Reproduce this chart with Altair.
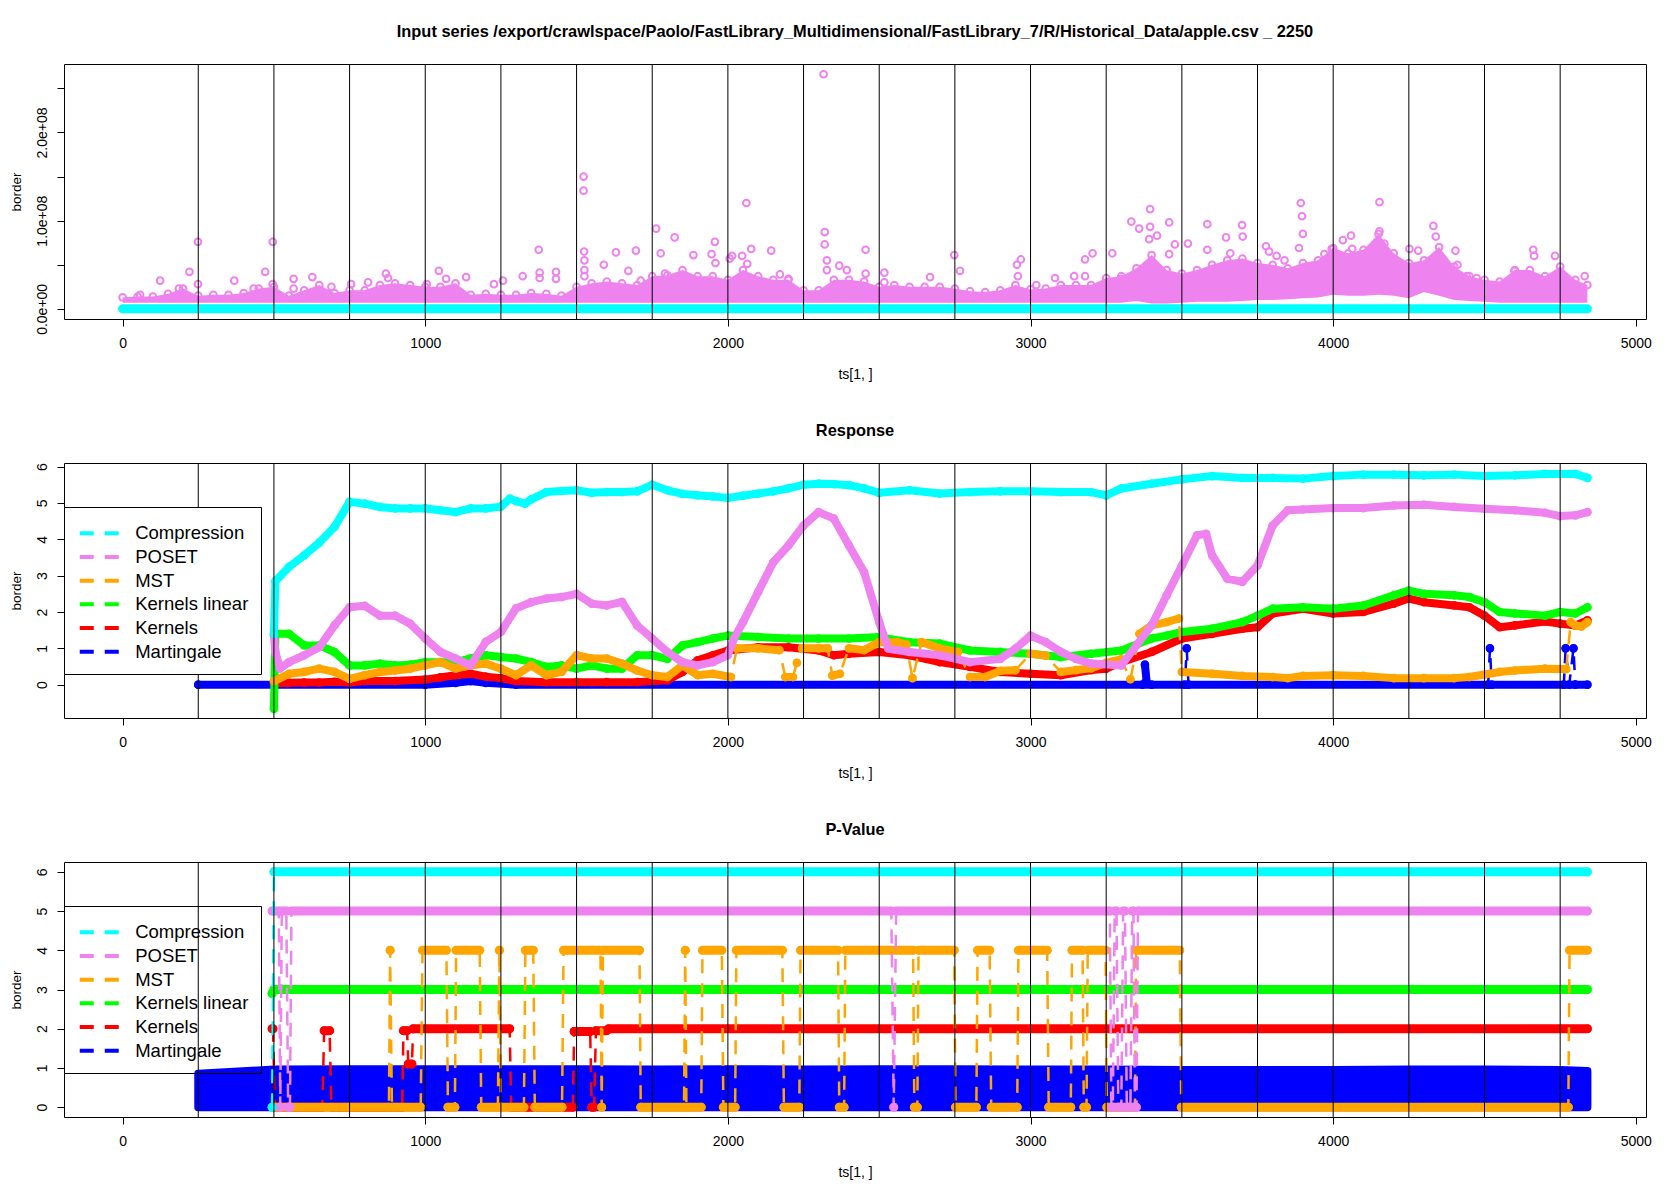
import altair as alt
import pandas as pd

FONT = "Liberation Sans"

SERIES = ["Compression", "POSET", "MST", "Kernels linear", "Kernels", "Martingale"]
COLORS = ["#00FFFF", "#EE82EE", "#FFA500", "#00FF00", "#FF0000", "#0000FF"]
Z_ORDER = ["Martingale", "Kernels", "Kernels linear", "MST", "POSET", "Compression"]

TITLE1 = "Input series /export/crawlspace/Paolo/FastLibrary_Multidimensional/FastLibrary_7/R/Historical_Data/apple.csv _ 2250"
TITLE2 = "Response"
TITLE3 = "P-Value"

breaks = [250, 500, 750, 1000, 1250, 1500, 1750, 2000, 2250, 2500, 2750, 3000,
          3250, 3500, 3750, 4000, 4250, 4500, 4750]
x_ticks = [0, 1000, 2000, 3000, 4000, 5000]
X_DOMAIN = [-193.6, 5033.6]

# ---------------- panel 1: input series (values in units of 1e7) ----------------
pink_ts = [0, 50, 100, 150, 200, 250, 300, 350, 400, 450, 500, 550, 600, 650, 700, 750,
           800, 850, 900, 950, 1000, 1050, 1100, 1150, 1200, 1250, 1300, 1350, 1400, 1450,
           1500, 1550, 1600, 1650, 1700, 1750, 1800, 1850, 1900, 1950, 2000, 2050, 2100,
           2150, 2200, 2250, 2300, 2350, 2400, 2450, 2500, 2550, 2600, 2650, 2700, 2750,
           2800, 2850, 2900, 2950, 3000, 3050, 3100, 3150, 3200, 3250, 3300, 3350, 3400,
           3450, 3500, 3550, 3600, 3650, 3700, 3750, 3800, 3850, 3900, 3950, 4000, 4050,
           4100, 4150, 4200, 4250, 4300, 4350, 4400, 4450, 4500, 4550, 4600, 4650, 4700,
           4750, 4800, 4840]
pink_hi = [1.3, 1.4, 1.4, 1.7, 2.3, 1.5, 1.6, 1.6, 1.8, 2.3, 2.5, 1.5, 2.1, 2.7, 1.8, 2.1,
           2.1, 2.7, 2.9, 2.7, 2.5, 2.5, 2.9, 1.6, 1.7, 1.6, 1.6, 1.8, 1.7, 1.5,
           2.5, 2.9, 3.1, 2.9, 2.7, 3.7, 3.8, 4.4, 3.7, 3.7, 3.3, 4.4, 3.7,
           3.3, 3.3, 2.1, 2.1, 3.3, 3.3, 3.1, 2.5, 2.7, 2.5, 2.5, 2.5, 2.3,
           2.0, 1.9, 2.1, 2.7, 2.2, 2.3, 2.7, 2.7, 2.7, 3.5, 3.7, 4.6, 6.1,
           4.4, 4.0, 4.4, 5.0, 5.5, 5.7, 5.2, 5.0, 4.6, 5.2, 5.5, 6.9, 6.3,
           6.7, 8.5, 6.3, 5.2, 5.5, 7.0, 4.8, 3.7, 3.3, 3.1, 4.4, 4.4, 3.7,
           4.8, 3.3, 2.7]
pink_lo = [0.7, 0.7, 0.7, 0.7, 0.7, 0.7, 0.7, 0.7, 0.7, 0.7, 0.7, 0.7, 0.7, 0.7, 0.7, 0.7,
           0.7, 0.7, 0.7, 0.7, 0.7, 0.7, 0.7, 0.7, 0.7, 0.7, 0.7, 0.7, 0.7, 0.7,
           0.7, 0.7, 0.7, 0.7, 0.7, 0.7, 0.7, 0.7, 0.7, 0.7, 0.7, 0.7, 0.7,
           0.7, 0.7, 0.7, 0.7, 0.7, 0.7, 0.7, 0.7, 0.7, 0.7, 0.7, 0.7, 0.7,
           0.7, 0.7, 0.7, 0.7, 0.7, 0.7, 0.7, 0.7, 0.7, 0.7, 0.7, 0.9, 0.6,
           0.6, 0.7, 0.8, 0.8, 0.8, 0.9, 1.0, 1.0, 1.1, 1.2, 1.3, 1.6, 1.5,
           1.5, 1.6, 1.5, 1.2, 1.9, 1.5, 1.0, 0.9, 0.8, 0.7, 0.7, 0.7, 0.7,
           0.7, 0.7, 0.7]
out_ts = [58, 124, 186, 221, 249, 249, 369, 433, 471, 496, 496, 565, 565, 627, 690, 755,
          811, 870, 877, 1005, 1045, 1069, 1135, 1227, 1257, 1322, 1375, 1378, 1378, 1432,
          1432, 1523, 1523, 1525, 1526, 1526, 1526, 1590, 1630, 1671, 1696, 1712, 1763,
          1778, 1792, 1824, 1886, 1946, 1957, 1959, 2006, 2014, 2047, 2061, 2064, 2077,
          2143, 2172, 2200, 2316, 2320, 2320, 2327, 2327, 2368, 2393, 2455, 2455, 2517,
          2517, 2668, 2748, 2767, 2955, 2968, 2958, 3019, 3081, 3144, 3180, 3180, 3205,
          3270, 3300, 3333, 3359, 3395, 3395, 3418, 3392, 3458, 3477, 3520, 3458, 3584,
          3584, 3646, 3699, 3701, 3660, 3778, 3788, 3813, 3839, 3893, 3897, 3900, 3887,
          3971, 4032, 4059, 3995, 4063, 4153, 4153, 4169, 4252, 4281, 4331, 4339, 4404,
          4411, 4441, 4474, 4599, 4661, 4664, 4733, 4831]
out_v = [1.6, 3.2, 2.3, 4.2, 7.6, 2.8, 3.2, 2.3, 4.2, 7.6, 2.8, 3.4, 2.3, 3.6, 2.5, 2.8,
         3.0, 4.0, 3.5, 2.8, 4.3, 3.4, 3.6, 2.8, 3.2, 3.7, 6.7, 4.1, 3.5, 4.2,
         3.4, 15.0, 13.4, 6.5, 5.5, 4.4, 3.7, 5.0, 6.4, 4.3, 6.6, 3.2, 9.1,
         6.3, 4.0, 8.1, 6.1, 6.2, 7.6, 5.2, 5.7, 6.0, 6.0, 12.0, 5.1, 6.8,
         6.6, 3.9, 3.4, 26.6, 8.7, 7.3, 5.5, 4.4, 4.9, 4.4, 6.7, 4.0, 4.1,
         3.0, 3.6, 6.1, 4.3, 5.0, 5.6, 3.7, 2.7, 3.5, 3.7, 3.7, 5.6, 6.3,
         6.3, 3.4, 9.9, 9.1, 11.3, 9.3, 8.3, 7.9, 9.8, 7.3, 7.4, 6.2, 9.6,
         6.7, 8.1, 9.5, 8.2, 6.3, 7.1, 6.5, 6.0, 5.5, 12.0, 10.5, 8.5, 6.9,
         6.2, 7.8, 8.3, 6.8, 6.8, 12.1, 8.8, 7.4, 6.8, 6.6, 9.4, 8.2, 6.6,
         5.0, 3.7, 3.5, 4.3, 6.7, 6.0, 6.0, 3.7]
cyan_ts = [0, 4840]
cyan_v = [0, 0]

# ---------------- panel 2: Response ----------------
comp_ts = [500, 505, 550, 600, 650, 700, 750, 800, 850, 900, 950, 1000, 1050, 1100, 1150,
           1200, 1250, 1280, 1300, 1330, 1350, 1400, 1450, 1500, 1550, 1600, 1650, 1700,
           1750, 1800, 1850, 1900, 1950, 2000, 2050, 2100, 2150, 2200, 2250, 2300, 2350,
           2400, 2450, 2500, 2600, 2700, 2800, 2900, 3000, 3100, 3200, 3250, 3300, 3400,
           3500, 3600, 3700, 3800, 3900, 4000, 4100, 4200, 4300, 4400, 4500, 4600, 4700,
           4800, 4840]
comp_v = [1.4, 2.85, 3.24, 3.56, 3.91, 4.34, 5.03, 4.98, 4.89, 4.85, 4.85, 4.85, 4.8, 4.75,
          4.85, 4.85, 4.9, 5.12, 5.05, 4.98, 5.1, 5.3, 5.33, 5.35, 5.28, 5.3, 5.3, 5.32,
          5.5, 5.35, 5.25, 5.21, 5.18, 5.14, 5.2, 5.26, 5.32, 5.4, 5.5, 5.53, 5.52,
          5.49, 5.4, 5.28, 5.35, 5.26, 5.3, 5.32, 5.32, 5.3, 5.3, 5.21, 5.4, 5.53,
          5.65, 5.74, 5.69, 5.69, 5.67, 5.74, 5.78, 5.78, 5.76, 5.78, 5.74, 5.76, 5.8,
          5.8, 5.69]

pos_ts = [500, 505, 520, 550, 600, 650, 700, 750, 800, 850, 900, 950, 1000, 1050, 1100,
          1150, 1200, 1250, 1300, 1350, 1400, 1450, 1500, 1550, 1600, 1650, 1700, 1750,
          1800, 1850, 1900, 1950, 2000, 2020, 2050, 2100, 2150, 2200, 2250, 2300, 2350,
          2400, 2450, 2500, 2530, 2600, 2700, 2800, 2900, 2950, 3000, 3050, 3100, 3150,
          3200, 3300, 3350, 3400, 3450, 3500, 3550, 3580, 3600, 3650, 3700, 3750, 3800,
          3850, 3900, 4000, 4100, 4200, 4300, 4400, 4500, 4600, 4700, 4750, 4800, 4840]
pos_v = [1.36, 0.9, 0.45, 0.62, 0.81, 1.03, 1.63, 2.13, 2.17, 1.9, 1.9, 1.68, 1.27, 0.9,
         0.72, 0.53, 1.18, 1.45, 2.1, 2.27, 2.37, 2.41, 2.5, 2.23, 2.18, 2.28, 1.63, 1.27,
         0.9, 0.62, 0.53, 0.62, 0.81, 1.27, 1.72, 2.55, 3.37, 3.83, 4.38, 4.75, 4.57,
         3.83, 3.1, 1.72, 0.99, 0.9, 0.81, 0.62, 0.71, 0.99, 1.35, 1.17, 0.9, 0.71,
         0.58, 0.53, 1.08, 1.63, 2.46, 3.28, 4.11, 4.15, 3.56, 2.92, 2.83, 3.28, 4.38,
         4.8, 4.82, 4.86, 4.86, 4.93, 4.95, 4.89, 4.84, 4.8, 4.73, 4.64, 4.66, 4.75]

kl_ts = [500, 505, 550, 600, 650, 700, 750, 800, 850, 900, 950, 1000, 1050, 1100, 1150,
         1200, 1250, 1300, 1350, 1400, 1450, 1500, 1550, 1600, 1650, 1700, 1750, 1800,
         1850, 1900, 1950, 2000, 2100, 2200, 2300, 2400, 2500, 2600, 2700, 2800, 2900,
         3000, 3100, 3200, 3300, 3400, 3450, 3500, 3600, 3700, 3750, 3800, 3900, 4000,
         4100, 4200, 4250, 4300, 4400, 4450, 4500, 4550, 4600, 4700, 4750, 4800, 4840]
kl_v = [-0.66, 1.4, 1.4, 1.08, 1.08, 0.9, 0.53, 0.53, 0.58, 0.53, 0.55, 0.62, 0.62, 0.62,
        0.72, 0.81, 0.76, 0.72, 0.62, 0.49, 0.53, 0.44, 0.53, 0.44, 0.44, 0.81, 0.81, 0.71,
        1.08, 1.17, 1.27, 1.35, 1.31, 1.27, 1.27, 1.27, 1.31, 1.17, 1.13, 0.94, 0.9,
        0.85, 0.76, 0.85, 0.94, 1.27, 1.35, 1.45, 1.54, 1.72, 1.9, 2.09, 2.13, 2.09,
        2.18, 2.46, 2.59, 2.5, 2.46, 2.41, 2.27, 2.0, 1.96, 1.9, 2.0, 1.96, 2.13]

k_ts = [500, 550, 600, 650, 700, 750, 800, 900, 1000, 1050, 1100, 1150, 1200, 1250, 1300,
        1400, 1500, 1600, 1700, 1800, 1850, 1900, 1950, 2000, 2100, 2200, 2300, 2350, 2400,
        2500, 2600, 2700, 2800, 2900, 3000, 3100, 3200, 3250, 3300, 3400, 3500, 3600,
        3700, 3750, 3800, 3900, 4000, 4100, 4200, 4250, 4300, 4400, 4450, 4500, 4550,
        4600, 4700, 4750, 4800, 4840]
k_v = [0.03, 0.05, 0.06, 0.06, 0.08, 0.06, 0.1, 0.1, 0.14, 0.2, 0.26, 0.3, 0.22, 0.18, 0.1,
       0.07, 0.07, 0.07, 0.07, 0.12, 0.35, 0.67, 0.81, 0.94, 1.03, 1.03, 0.94, 0.81, 0.85,
       0.9, 0.81, 0.62, 0.49, 0.35, 0.3, 0.26, 0.4, 0.44, 0.62, 0.9, 1.27, 1.4,
       1.54, 1.58, 1.96, 2.09, 1.96, 2.0, 2.23, 2.37, 2.27, 2.18, 2.13, 1.9, 1.58,
       1.63, 1.74, 1.68, 1.63, 1.77]

mst_ts = [500, 550, 600, 650, 700, 750, 800, 850, 900, 950, 1000, 1050, 1100, 1150, 1200,
          1250, 1300, 1350, 1400, 1450, 1500, 1550, 1600, 1650, 1700, 1750, 1800, 1850, 1900,
          1950, 2010, 2030, 2100, 2170, 2190, 2215, 2228, 2245, 2300, 2330, 2345, 2370,
          2400, 2450, 2500, 2560, 2590, 2610, 2640, 2700, 2760, 2800, 2850, 2900, 2950,
          3000, 3050, 3100, 3150, 3200, 3250, 3300, 3330, 3360, 3400, 3450, 3490, 3500,
          3600, 3700, 3800, 3850, 3900, 4000, 4100, 4200, 4300, 4400, 4450, 4500, 4550,
          4600, 4700, 4770, 4785, 4800, 4820, 4840]
mst_v = [0.1, 0.3, 0.35, 0.44, 0.35, 0.16, 0.26, 0.35, 0.39, 0.44, 0.53, 0.62, 0.44, 0.53,
         0.58, 0.44, 0.26, 0.53, 0.26, 0.35, 0.81, 0.72, 0.72, 0.58, 0.39, 0.26, 0.21, 0.53,
         0.26, 0.3, 0.21, 1.0, 1.0, 0.95, 0.21, 0.21, 0.6, 1.0, 1.0, 1.0, 0.25, 0.3,
         1.0, 0.95, 1.17, 1.17, 1.1, 0.18, 1.17, 1.0, 0.9, 0.21, 0.21, 0.38, 0.4,
         0.85, 0.8, 0.35, 0.4, 0.45, 0.6, 0.7, 0.15, 1.4, 1.63, 1.72, 1.82, 0.35,
         0.3, 0.24, 0.21, 0.18, 0.24, 0.26, 0.24, 0.18, 0.18, 0.18, 0.21, 0.28, 0.35,
         0.39, 0.44, 0.43, 1.72, 1.63, 1.6, 1.72]
# lengths of the unbroken runs of the MST response (the rest are dashed jumps)
mst_run_len = [31, 3, 2, 1, 3, 2, 5, 1, 3, 4, 2, 5, 1, 4, 17, 4]

mart_ts = [250, 1000, 1100, 1150, 1200, 1300, 3370, 3378, 3384, 3400, 3510, 3516, 3522,
           4512, 4518, 4524, 4762, 4768, 4780, 4794, 4800, 4840]
mart_v = [0, 0, 0.05, 0.1, 0.05, 0, 0, 0.55, 0.05, 0, 0, 1.0, 0, 0, 1.0, 0, 0, 1.0, 0,
          1.0, 0, 0]
mart_seg = [0, 0, 0, 0, 0, 0, 0, 1, 1, 0, 0, 2, 0, 0, 3, 0, 0, 4, 0, 5, 0, 0]

# ---------------- panel 3: P-Value (constant runs: start, end, value) ----------------
pv_comp_start = [494, 500]
pv_comp_end = [494, 4840]
pv_comp_val = [0, 6]

pv_poset_start = [494, 521, 526, 547, 558, 2548, 2556, 3267, 3278, 3290, 3306, 3318,
                  3336, 3345, 3355]
pv_poset_end = [516, 521, 541, 553, 2540, 2548, 3262, 3272, 3284, 3300, 3312, 3330,
                3340, 3350, 4840]
pv_poset_val = [5, 0, 5, 0, 5, 0, 5, 0, 5, 0, 5, 0, 5, 0, 5]

pv_mst_start = [505, 884, 890, 991, 1075, 1102, 1185, 1245, 1250, 1331, 1362, 1457, 1583,
                1587, 1712, 1859, 1863, 1916, 1985, 2028, 2185, 2240, 2368, 2388, 2616,
                2630, 2752, 2825, 2870, 2960, 3060, 3137, 3176, 3189, 3252, 3349, 3498, 4781]
pv_mst_end = [880, 884, 985, 1070, 1098, 1180, 1240, 1245, 1326, 1357, 1452, 1579, 1583,
              1708, 1855, 1859, 1912, 1980, 2024, 2180, 2236, 2364, 2384, 2612, 2626,
              2748, 2821, 2865, 2956, 3055, 3133, 3172, 3185, 3248, 3345, 3493, 4777, 4840]
pv_mst_val = [0, 4, 0, 4, 0, 4, 0, 4, 0, 4, 0, 4, 0, 4, 0, 4, 0, 4, 0, 4, 0, 4, 0, 4, 0,
              4, 0, 4, 0, 4, 0, 4, 0, 4, 0, 4, 0, 4]

pv_kl_start = [494, 500]
pv_kl_end = [494, 4840]
pv_kl_val = [2.9, 3]

pv_kern_start = [494, 503, 666, 690, 928, 944, 960, 1284, 1492, 1550, 1564, 1606]
pv_kern_end = [497, 660, 684, 924, 940, 956, 1279, 1488, 1545, 1558, 1600, 4840]
pv_kern_val = [2, 0, 1.95, 0, 1.95, 1.1, 2, 0, 1.93, 0, 1.95, 2]

# Martingale p-values fill a dense band between 0 and its upper envelope
pv_mart_ts = [250, 500, 750, 1000, 1250, 1500, 1750, 2000, 2250, 2500, 2750, 3000, 3250,
              3500, 3750, 4000, 4250, 4500, 4750, 4840]
pv_mart_top = [0.85, 0.96, 0.97, 0.97, 0.97, 0.97, 0.96, 0.97, 0.96, 0.97, 0.97, 0.96,
               0.96, 0.95, 0.95, 0.95, 0.96, 0.96, 0.95, 0.92]

# ---------------- helpers ----------------
W, H = 1582, 255
DASH_PATH = "M-7.8,0H-2.2M2.2,0H7.8"


def xenc():
    return alt.X("ts:Q", scale=alt.Scale(domain=X_DOMAIN, nice=False, zero=False),
                 axis=alt.Axis(values=x_ticks, format="d", title="ts[1, ]"))


def yenc(field, domain, values, label_expr=None):
    kw = dict(values=values, title="border")
    if label_expr:
        kw["labelExpr"] = label_expr
    return alt.Y(field, scale=alt.Scale(domain=domain, nice=False, zero=False),
                 axis=alt.Axis(**kw))


def legend(fill):
    kw = dict(title=" ", titleFontSize=1, titlePadding=4, orient="none", legendX=0,
              legendY=44, direction="vertical", strokeColor="black", padding=12,
              symbolType=DASH_PATH, symbolSize=25, symbolStrokeWidth=4, symbolOffset=14,
              labelOffset=26.7, labelFont=FONT, labelFontSize=18.5, labelColor="black",
              rowPadding=4.7, cornerRadius=0, labelLimit=400)
    if fill:
        kw["fillColor"] = "white"
    return alt.Legend(**kw)


def cenc(fill):
    return alt.Color("series:N", scale=alt.Scale(domain=SERIES, range=COLORS),
                     legend=legend(fill))


breaks_df = pd.DataFrame({"ts": breaks})


def rules():
    return alt.Chart(breaks_df).mark_rule(color="black", strokeWidth=1).encode(x=xenc())


# ---------------- panel 1 ----------------
band_df = pd.DataFrame({"ts": pink_ts, "hi": [h * 1e7 for h in pink_hi],
                        "lo": [l * 1e7 for l in pink_lo]})
out_df = pd.DataFrame({"ts": out_ts, "v": [o * 1e7 for o in out_v]})
cyan_df = pd.DataFrame({"ts": cyan_ts, "v": cyan_v})
Y1_DOM = [-1.15e7, 2.776e8]
Y1_VALS = [0, 5e7, 1e8, 1.5e8, 2e8, 2.5e8]
Y1_LAB = ("datum.value == 0 ? '0.0e+00' : datum.value == 100000000 ? '1.0e+08' : "
          "datum.value == 200000000 ? '2.0e+08' : ''")

p1 = alt.layer(
    alt.Chart(band_df).mark_area(color="#EE82EE", opacity=1).encode(
        x=xenc(), y=yenc("hi:Q", Y1_DOM, Y1_VALS, Y1_LAB), y2="lo:Q"),
    alt.Chart(band_df).mark_point(filled=False, color="#EE82EE", size=45, strokeWidth=2,
                                  opacity=1).encode(
        x=xenc(), y=yenc("hi:Q", Y1_DOM, Y1_VALS, Y1_LAB)),
    alt.Chart(out_df).mark_point(filled=False, color="#EE82EE", size=45, strokeWidth=2,
                                 opacity=1).encode(
        x=xenc(), y=yenc("v:Q", Y1_DOM, Y1_VALS, Y1_LAB)),
    alt.Chart(cyan_df).mark_line(color="#00FFFF", strokeWidth=9, strokeCap="round").encode(
        x=xenc(), y=yenc("v:Q", Y1_DOM, Y1_VALS, Y1_LAB)),
    rules(),
).properties(width=W, height=H, title=TITLE1)

# ---------------- panel 2 ----------------
Y2_DOM = [-0.917, 6.10]
Y_VALS = [0, 1, 2, 3, 4, 5, 6]

mst_seg = []
for k, n in enumerate(mst_run_len):
    mst_seg += [k] * n

resp = {
    "Compression": (comp_ts, comp_v, [0] * len(comp_ts)),
    "POSET": (pos_ts, pos_v, [0] * len(pos_ts)),
    "MST": (mst_ts, mst_v, mst_seg),
    "Kernels linear": (kl_ts, kl_v, [0] * len(kl_ts)),
    "Kernels": (k_ts, k_v, [0] * len(k_ts)),
    "Martingale": (mart_ts, mart_v, mart_seg),
}

layers2 = []
for name in Z_ORDER:
    ts, v, seg = resp[name]
    df = pd.DataFrame({"ts": ts, "v": v, "seg": seg})
    df["series"] = name
    df["i"] = range(len(df))
    base = alt.Chart(df).encode(x=xenc(), y=yenc("v:Q", Y2_DOM, Y_VALS),
                                color=cenc(True), order=alt.Order("i:Q"))
    layers2.append(base.mark_line(strokeDash=[14, 10], strokeWidth=2.5))
    layers2.append(base.mark_line(strokeWidth=8, strokeCap="round",
                                  strokeJoin="round").encode(detail="seg:N"))
    layers2.append(base.mark_point(filled=False, size=45, strokeWidth=2, opacity=1))
layers2.append(rules())
p2 = alt.layer(*layers2).properties(width=W, height=H, title=TITLE2)

# ---------------- panel 3 ----------------
Y3_DOM = [-0.25, 6.25]
pv = {
    "Compression": (pv_comp_start, pv_comp_end, pv_comp_val),
    "POSET": (pv_poset_start, pv_poset_end, pv_poset_val),
    "MST": (pv_mst_start, pv_mst_end, pv_mst_val),
    "Kernels linear": (pv_kl_start, pv_kl_end, pv_kl_val),
    "Kernels": (pv_kern_start, pv_kern_end, pv_kern_val),
}

mart_band = pd.DataFrame({"ts": pv_mart_ts, "top": pv_mart_top})
layers3 = [
    alt.Chart(mart_band).mark_area(color="#0000FF", stroke="#0000FF", strokeWidth=8,
                                   strokeJoin="round", opacity=1).encode(
        x=xenc(), y=yenc("top:Q", Y3_DOM, Y_VALS), y2=alt.datum(0))
]
for name in Z_ORDER:
    if name not in pv:
        continue
    s, e, val = pv[name]
    rows = []
    for k in range(len(s)):
        rows.append({"ts": s[k], "v": val[k], "seg": k})
        rows.append({"ts": e[k], "v": val[k], "seg": k})
    df = pd.DataFrame(rows)
    df["series"] = name
    df["i"] = range(len(df))
    base = alt.Chart(df).encode(x=xenc(), y=yenc("v:Q", Y3_DOM, Y_VALS),
                                color=cenc(False), order=alt.Order("i:Q"))
    layers3.append(base.mark_line(strokeDash=[14, 10], strokeWidth=2.5))
    layers3.append(base.mark_line(strokeWidth=9, strokeCap="round",
                                  strokeJoin="round").encode(detail="seg:N"))
    layers3.append(base.mark_point(filled=False, size=45, strokeWidth=2, opacity=1))
layers3.append(rules())
p3 = alt.layer(*layers3).properties(width=W, height=H, title=TITLE3)

chart = alt.vconcat(p1, p2, p3, spacing=40).resolve_scale(color="independent").properties(
    padding={"left": 0, "top": 15, "right": 5, "bottom": 5}
).configure_view(stroke="black", strokeWidth=1).configure_axis(
    domain=False, grid=False, tickColor="black", tickWidth=1, tickSize=7,
    labelColor="black", titleColor="black", labelFont=FONT, titleFont=FONT,
    labelFontSize=14, titleFontSize=14, titleFontWeight="normal"
).configure_axisX(labelPadding=10, titlePadding=17, labelFlush=False).configure_axisY(
    labelAngle=270, labelAlign="center", labelBaseline="bottom", labelPadding=8,
    titleAngle=270, titlePadding=12, titleFontSize=13.5
).configure_title(font=FONT, fontSize=16.4, fontWeight="bold", color="black", offset=23,
                  anchor="middle")

chart.save("out.html", embed_options={"renderer": "svg", "actions": False})
